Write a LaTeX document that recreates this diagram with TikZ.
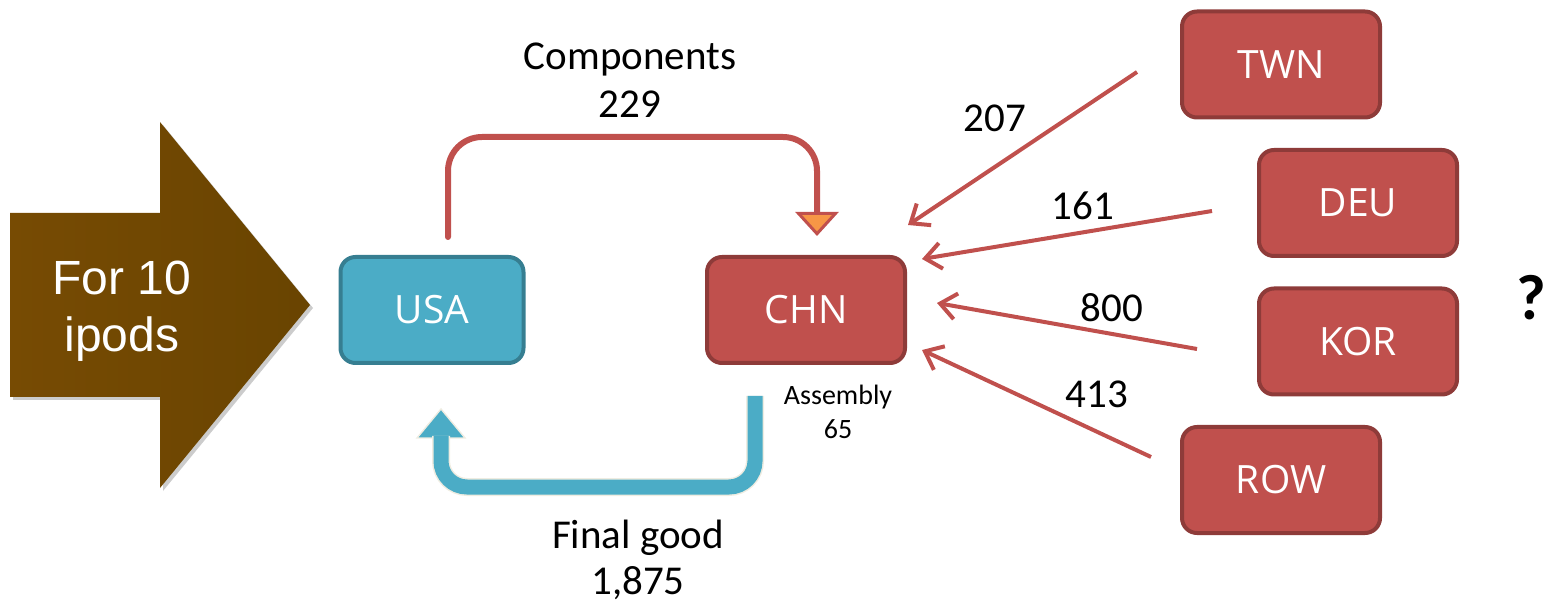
\documentclass[tikz,border=0pt]{standalone}
\usepackage{fontspec}
\setmainfont{Carlito}
\newfontfamily\boxfont{Open Sans}
\newfontfamily\bigfont{Liberation Sans}
\usetikzlibrary{arrows.meta,shadows}

\definecolor{tradered}{HTML}{C0504D}
\definecolor{tradedark}{HTML}{8E3B39}
\definecolor{usablue}{HTML}{4BACC6}
\definecolor{usadark}{HTML}{367E91}
\definecolor{flowbeige}{HTML}{EEECE1}
\definecolor{tiporange}{HTML}{F79646}
\definecolor{brownA}{HTML}{774B03}
\definecolor{brownB}{HTML}{694401}

\tikzset{
  country/.style={draw=tradedark, fill=tradered, line width=2pt,
    rounded corners=7.5pt, minimum width=99pt, minimum height=53pt,
    inner sep=0pt, text=white, font=\boxfont\fontsize{19.5}{22}\selectfont},
  home/.style={country, draw=usadark, fill=usablue, minimum width=91.5pt},
  import/.style={draw=tradered, line width=2pt,
    -{Straight Barb[length=8pt,width=13pt]}},
  flowlbl/.style={font=\fontsize{20.5}{24}\selectfont, anchor=base},
  smalllbl/.style={font=\fontsize{14}{16}\selectfont, anchor=base},
}

\begin{document}
\begin{tikzpicture}[x=0.5pt, y=-0.5pt]
\useasboundingbox (0,0) rectangle (1545,603);

% big arrow
\shade[left color=brownA, right color=brownB,
  drop shadow={shadow xshift=1.5pt, shadow yshift=-1.5pt, opacity=0.4}]
  (10,213) -- (160,213) -- (160,122) -- (310,305) -- (160,488)
  -- (160,397) -- (10,397) -- cycle;
\node[white, font=\bigfont\fontsize{24}{28.5}\selectfont, align=center]
  (ipods) at (122,311) {For 10\\ipods};

% countries
\node[home] (usa) at (432,310) {USA};
\node[country] (chn) at (806,310) {CHN};
\node[country] (twn) at (1281,64.5) {TWN};
\node[country] (deu) at (1358,203) {DEU};
\node[country] (kor) at (1358,341.5) {KOR};
\node[country] (row) at (1281,480) {ROW};

% components
\coordinate (comp-out) at (448,237);
\coordinate (comp-in) at (817,236);
\draw[tradered, line width=3pt, line cap=round, rounded corners=17pt,
  -{Triangle[length=12pt,width=21.5pt,fill=tiporange,line width=1.5pt]}]
  (comp-out) -- ++(0,-100) -| (comp-in);
\node[flowlbl] (comp-lbl) at (630,70) {Components};
\node[flowlbl] (comp-val) at (630,118) {229};

% final good
\coordinate (final-out) at (755,396);
\coordinate (final-in) at (441,436);
\coordinate (final-tip) at (441,409);
\filldraw[fill=usablue, draw=flowbeige, line width=0.7pt]
  (final-tip) -- ++(24,29) -- ++(-48,0) -- cycle;
\draw[usablue, line width=7.5pt, rounded corners=13pt,
  preaction={draw=flowbeige, line width=9pt}]
  (final-out) -- ++(0,91) -| (final-in);
\node[flowlbl] (final-lbl) at (638,548) {Final good};
\node[flowlbl] (final-val) at (638,594) {1,875};

% assembly
\node[smalllbl] (asm-lbl) at (838,405) {Assembly};
\node[smalllbl] (asm-val) at (838,438) {65};

% imports
\coordinate (twn-out) at (1137,72);
\coordinate (twn-in) at (908,225);
\coordinate (deu-out) at (1212,211);
\coordinate (deu-in) at (922,259);
\coordinate (kor-out) at (1197,349);
\coordinate (kor-in) at (937,303);
\coordinate (row-out) at (1151,457);
\coordinate (row-in) at (922,350);
\draw[import] (twn-out) -- (twn-in);
\draw[import] (deu-out) -- (deu-in);
\draw[import] (kor-out) -- (kor-in);
\draw[import] (row-out) -- (row-in);
\node[flowlbl] (twn-val) at (995,132) {207};
\node[flowlbl] (deu-val) at (1083,220) {161};
\node[flowlbl] (kor-val) at (1112,322) {800};
\node[flowlbl] (row-val) at (1097,408) {413};

\node[font=\bfseries\fontsize{32}{32}\selectfont, anchor=base]
  (query) at (1531,320) {?};

\end{tikzpicture}
\end{document}
